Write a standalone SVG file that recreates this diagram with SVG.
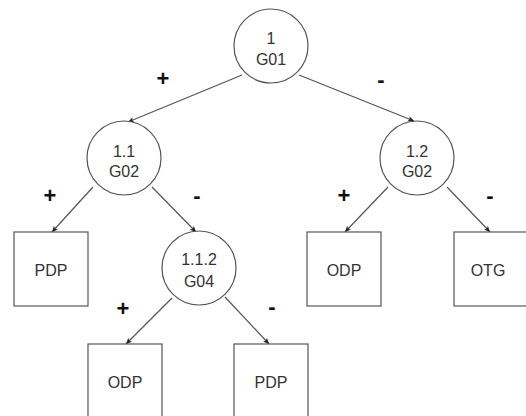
<svg xmlns="http://www.w3.org/2000/svg" width="526" height="416" viewBox="0 0 526 416">
<style>
.n{fill:#ffffff;stroke:#555555;stroke-width:1.2}
.t{font-family:"Liberation Sans",Arial,sans-serif;font-size:16px;fill:#333333;text-anchor:middle}
.e{stroke:#555555;stroke-width:1.2;fill:none;marker-end:url(#arr)}
.s{font-family:"Liberation Sans",Arial,sans-serif;font-size:22px;font-weight:bold;fill:#111111;text-anchor:middle}
</style>
<defs>
<marker id="arr" markerUnits="userSpaceOnUse" markerWidth="8" markerHeight="6" refX="6" refY="2.75" orient="auto">
<path d="M0,0 L6,2.75 L0,5.5 L1.5,2.75 z" fill="#222222"/>
</marker>
</defs>
<rect width="526" height="416" fill="#ffffff"/>
<g id="connectors">
<line class="e" x1="242" y1="75" x2="128" y2="122"/>
<line class="e" x1="299" y1="75" x2="414" y2="121"/>
<line class="e" x1="93" y1="187" x2="52" y2="232"/>
<line class="e" x1="152" y1="187" x2="196" y2="232"/>
<line class="e" x1="388" y1="187" x2="345" y2="232"/>
<line class="e" x1="447" y1="187" x2="490" y2="232"/>
<line class="e" x1="172" y1="298" x2="126" y2="344"/>
<line class="e" x1="225" y1="297" x2="269" y2="344"/>
</g>
<g id="labels">
<text class="s" x="163" y="86">+</text>
<text class="s" x="381" y="87">-</text>
<text class="s" x="50" y="203">+</text>
<text class="s" x="197" y="203">-</text>
<text class="s" x="344" y="203">+</text>
<text class="s" x="490" y="203">-</text>
<text class="s" x="123" y="316">+</text>
<text class="s" x="272" y="314">-</text>
</g>
<g id="n1">
<circle class="n" cx="271" cy="46" r="37"/>
<text class="t" x="271" y="44">1</text>
<text class="t" x="271" y="65">G01</text>
</g>
<g id="n11">
<circle class="n" cx="124" cy="158" r="37"/>
<text class="t" x="124" y="157">1.1</text>
<text class="t" x="124" y="177">G02</text>
</g>
<g id="n12">
<circle class="n" cx="417" cy="158" r="37"/>
<text class="t" x="417" y="157">1.2</text>
<text class="t" x="417" y="177">G02</text>
</g>
<g id="n112">
<circle class="n" cx="199" cy="268" r="37"/>
<text class="t" x="199" y="265">1.1.2</text>
<text class="t" x="199" y="287">G04</text>
</g>
<g id="leaf1">
<rect class="n" x="14" y="232" width="74" height="74"/>
<text class="t" x="51" y="276">PDP</text>
</g>
<g id="leaf2">
<rect class="n" x="307" y="232" width="74" height="74"/>
<text class="t" x="344" y="276">ODP</text>
</g>
<g id="leaf3">
<rect class="n" x="454" y="232" width="74" height="74"/>
<text class="t" x="488" y="276">OTG</text>
</g>
<g id="leaf4">
<rect class="n" x="88" y="344" width="74" height="74"/>
<text class="t" x="125" y="388">ODP</text>
</g>
<g id="leaf5">
<rect class="n" x="234" y="344" width="74" height="74"/>
<text class="t" x="271" y="388">PDP</text>
</g>
</svg>
